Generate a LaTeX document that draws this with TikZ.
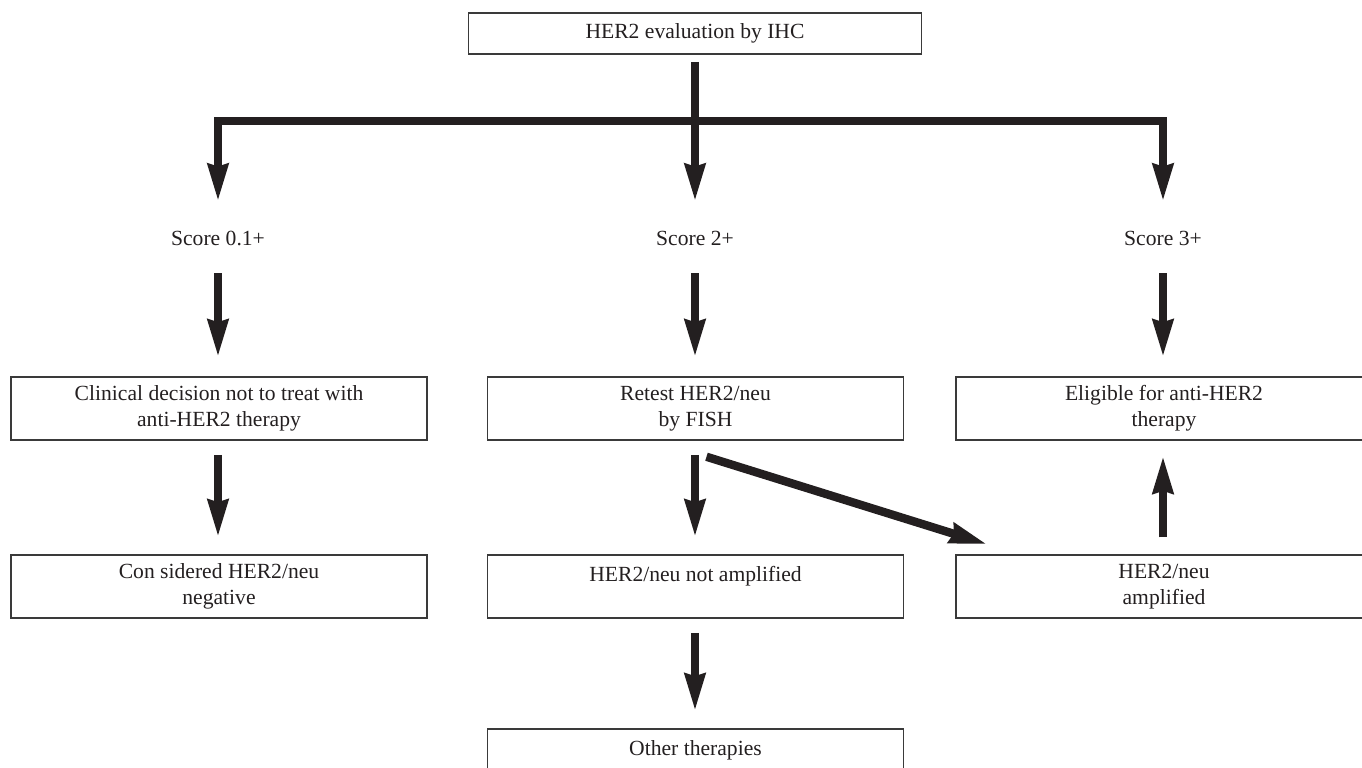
\documentclass[tikz,border=0pt]{standalone}
\usepackage{fontspec}
\setmainfont{Liberation Serif}
\usetikzlibrary{arrows.meta,calc}
\definecolor{ink}{HTML}{231F20}
\definecolor{edge}{HTML}{3A3A3A}
\begin{document}
\begin{tikzpicture}[x=0.5pt,y=-0.5pt,
  every node/.style={font=\fontsize{10.8}{12.85}\selectfont, text=ink},
  box/.style={draw=edge, line width=0.75pt, minimum width=208pt, minimum height=31.5pt, inner sep=0pt, align=center},
  topbox/.style={draw=edge, line width=0.75pt, minimum width=226.5pt, minimum height=20.5pt, inner sep=0pt, align=center},
  score/.style={minimum height=20pt, inner sep=0pt},
  bar/.style={draw=ink, line width=4.2pt},
  arr/.style={draw=ink, line width=4.2pt, -{Stealth[length=18.5pt,width=9.8pt,inset=1pt]}}
]
\useasboundingbox (0,0) rectangle (1362,767);
\clip (0,0) rectangle (1362,767);

\node[topbox] (top) at (695,33.5) {HER2 evaluation by IHC};

\coordinate (j1) at (218,121);
\coordinate (j2) at (695,121);
\coordinate (j3) at (1163,121);

\node[score] (s1) at (218,238) {Score 0.1+};
\node[score] (s2) at (695,238) {Score 2+};
\node[score] (s3) at (1163,238) {Score 3+};

\node[box] (b1) at (219,408.5) {Clinical decision not to treat with\\anti-HER2 therapy};
\node[box] (b2) at (695.5,408.5) {Retest HER2/neu\\by FISH};
\node[box] (b3) at (1164,408.5) {Eligible for anti-HER2\\therapy};

\node[box] (c1) at (219,586.5) {Con sidered HER2/neu\\negative};
\node[box] (c2) at (695.5,586.5) {HER2/neu not amplified\\\mbox{}};
\node[box] (c3) at (1164,586.5) {HER2/neu\\amplified};

\node[box] (d2) at (695.5,760.5) {Other therapies\\\mbox{}};

% trunk and bar
\draw[bar, shorten <=3.5pt] (top.south) -- (j2);
\draw[bar, line cap=rect] (j1) -- (j3);

% down to scores
\draw[arr, shorten >=8pt] (j1) -- (s1.north);
\draw[arr, shorten >=8pt] (j2) -- (s2.north);
\draw[arr, shorten >=8pt] (j3) -- (s3.north);

% scores to row 2
\draw[arr, shorten <=7.5pt, shorten >=9.5pt] (s1.south) -- (s1.south |- b1.north);
\draw[arr, shorten <=7.5pt, shorten >=9.5pt] (s2.south) -- (s2.south |- b2.north);
\draw[arr, shorten <=7.5pt, shorten >=9.5pt] (s3.south) -- (s3.south |- b3.north);

% row 2 to row 3
\draw[arr, shorten <=7pt, shorten >=8.5pt] (s1.south |- b1.south) -- (s1.south |- c1.north);
\draw[arr, shorten <=7pt, shorten >=8.5pt] (s2.south |- b2.south) -- (s2.south |- c2.north);
\draw[arr] ($(b2.south)+(11,16)$) -- ($(c3.north west)+(32,-10)$);
\draw[arr, shorten <=8.5pt, shorten >=7.5pt] (s3.south |- c3.north) -- (s3.south |- b3.south);

% row 3 to bottom
\draw[arr, shorten <=7pt, shorten >=8.5pt] (s2.south |- c2.south) -- (s2.south |- d2.north);
\end{tikzpicture}
\end{document}
